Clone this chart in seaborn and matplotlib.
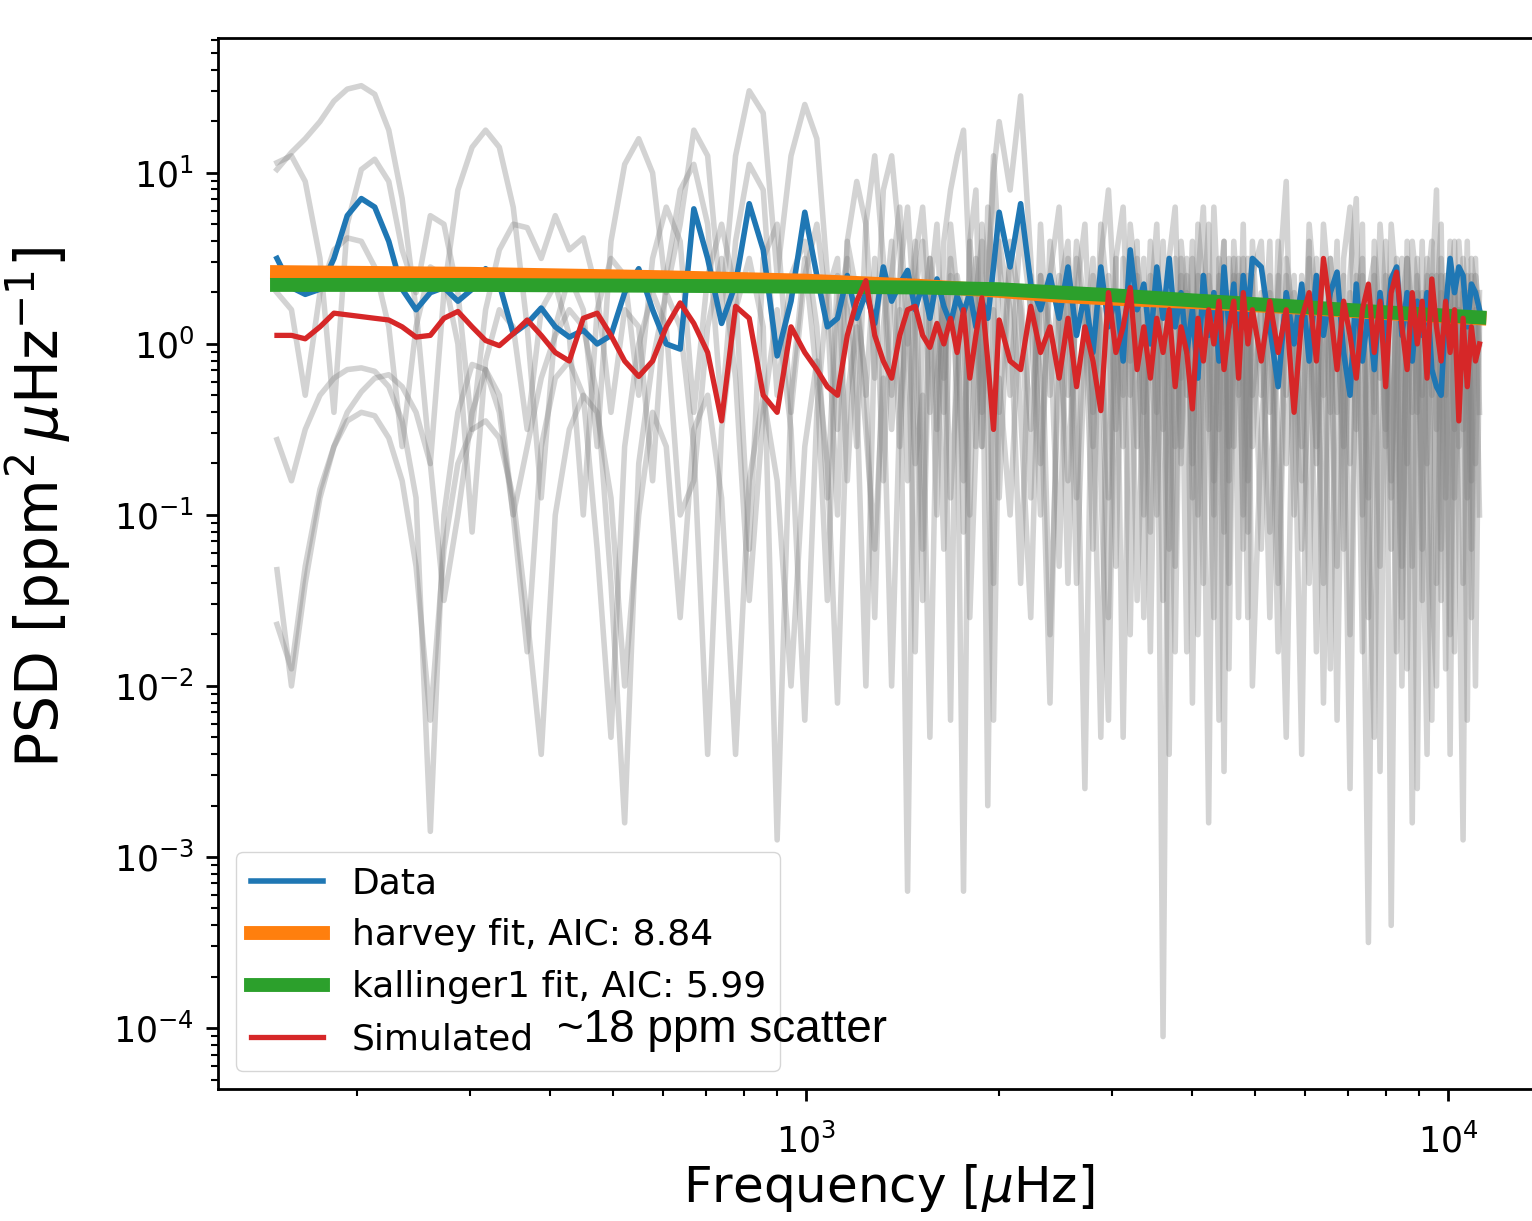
import numpy as np
import matplotlib
matplotlib.use("Agg")
import matplotlib.pyplot as plt
import seaborn as sns

# frequency grid of the periodograms [uHz]
freq_low = [150, 158, 166, 175, 184, 193, 203, 213, 224, 235, 247, 260, 273, 287, 302, 317,
            333, 350, 368, 387, 407, 428, 450, 473, 497, 522, 549, 577, 606, 637, 669, 703,
            739, 777, 816, 858, 902, 948, 996]
freq_mid = [1040, 1080, 1120, 1160, 1200, 1240, 1280, 1320, 1360, 1400, 1440, 1480, 1520,
            1560, 1600, 1640, 1680, 1720, 1760, 1800, 1840, 1880, 1920, 1960, 2000]
freq_high1 = [2080, 2160, 2240, 2320, 2400, 2480, 2560, 2640, 2720, 2800, 2880, 2960, 3040,
              3120, 3200, 3280, 3360, 3440, 3520, 3600, 3680, 3760, 3840, 3920, 4000, 4080,
              4160, 4240, 4320, 4400, 4480, 4560, 4640, 4720, 4800, 4880, 4960]
freq_high2 = [5120, 5280, 5440, 5600, 5760, 5920, 6080, 6240, 6400, 6560, 6720, 6880, 7040,
              7200, 7360, 7520, 7680, 7840, 8000, 8160, 8320, 8480, 8640, 8800, 8960, 9120,
              9280, 9440, 9600, 9760, 9920, 10080, 10240, 10400, 10560, 10720, 10880, 11040, 11200]
freq = freq_low + freq_mid + freq_high1 + freq_high2

# log10 PSD values
data_log = [0.50, 0.33, 0.29, 0.32, 0.50, 0.75, 0.85, 0.80, 0.60, 0.32, 0.20, 0.30, 0.33, 0.25, 0.32, 0.44, 0.35, 0.06, 0.12, 0.21,
            0.10, 0.04, 0.08, 0.00, 0.05, 0.30, 0.44, 0.20, 0.00, -0.03, 0.79, 0.50, 0.12, 0.35, 0.82, 0.55, -0.07, 0.25, 0.77,
            0.40, 0.10, 0.15, 0.40, 0.15, 0.30, 0.12, 0.45, 0.25, 0.35, 0.43, 0.20, 0.35, 0.15, 0.38, 0.22, 0.12, 0.28, 0.18, 0.30,
            0.10, 0.25, 0.15, 0.45, 0.77,
            0.45, 0.82, 0.35, 0.20, 0.40, 0.15, 0.45, 0.05, 0.30, -0.05, 0.45, 0.10, 0.30, -0.10, 0.55, 0.20, 0.35, 0.00, 0.45, 0.15,
            0.50, 0.10, 0.30, -0.05, 0.20, -0.20, 0.40, 0.05, 0.30, -0.10, 0.45, 0.10, 0.35, -0.05, 0.40, 0.15, 0.50,
            0.45, 0.10, -0.25, 0.30, 0.00, 0.35, -0.10, 0.40, 0.05, 0.30, 0.42, -0.05, -0.30, 0.35, -0.10, 0.20, -0.15, 0.30, 0.00, 0.38,
            0.45, 0.05, 0.30, -0.10, 0.25, 0.05, 0.30, -0.15, -0.25, -0.30, 0.20, 0.50, 0.30, 0.45, 0.40, 0.10, 0.35, 0.30, 0.20]

sim_log = [0.05, 0.05, 0.03, 0.10, 0.18, 0.17, 0.16, 0.15, 0.14, 0.10, 0.04, 0.05, 0.15, 0.19, 0.10, 0.02, -0.01, 0.06, 0.14, 0.05,
           -0.05, -0.10, 0.15, 0.18, 0.05, -0.10, -0.19, -0.10, 0.10, 0.24, 0.12, -0.05, -0.45, 0.22, 0.15, -0.30, -0.40, 0.10, -0.05,
           -0.15, -0.25, -0.30, 0.05, 0.25, 0.37, 0.05, -0.10, -0.20, 0.05, 0.20, 0.22, 0.05, -0.02, 0.12, 0.00, 0.15, -0.05, 0.20, -0.20,
           0.05, 0.27, -0.10, -0.50, 0.14,
           -0.10, -0.15, 0.22, -0.05, 0.10, -0.20, 0.15, -0.25, 0.10, -0.10, -0.39, 0.30, -0.05, 0.10, 0.33, -0.15, 0.10, -0.20, 0.15, -0.05,
           0.20, -0.25, 0.10, -0.05, -0.38, 0.15, -0.10, 0.20, 0.00, 0.25, -0.15, 0.10, 0.25, -0.20, 0.30, 0.00, 0.20,
           -0.10, 0.25, -0.05, 0.20, -0.40, 0.15, 0.30, -0.10, 0.50, 0.20, -0.15, 0.25, 0.05, -0.20, 0.20, 0.35, -0.05, 0.25, -0.25, 0.30,
           0.42, 0.10, -0.15, 0.30, 0.00, 0.25, -0.20, 0.38, 0.10, -0.10, 0.25, -0.05, 0.20, -0.45, 0.15, -0.25, 0.10, -0.10, 0.00]

grey_1 = [1.02, 1.12, 1.20, 1.30, 1.42, 1.49, 1.51, 1.46, 1.25, 0.85, 0.20, -0.70, 0.30, 0.90, 1.15, 1.25, 1.15, 0.80, 0.10, -0.90,
          0.10, 0.40, 0.20, -0.60, 0.60, 1.05, 1.20, 1.00, 0.30, 0.70, 1.25, 1.10, 0.20, 1.10, 1.48, 1.35, 0.40, 1.10, 1.40,
          1.20, 0.40, -0.50, 0.60, 0.95, 0.70, -0.20, 0.90, 1.10, 0.60, -0.80, 0.50, 0.80, 0.20, -1.00, 0.60, 0.90, 1.10, 1.25, 0.40,
          -0.60, 0.70, 0.30, 1.00, 1.30,
          0.90, 1.45, 0.50, -0.70, 0.40, 0.80, -0.30, 0.60, 0.20, -1.20, 0.50, 0.90, 0.10, -0.60, 0.70, 0.30, -0.40, 0.60, 0.10, -1.50,
          0.50, 0.80, -0.20, 0.40, -0.90, 0.70, 0.30, -0.50, 0.80, 0.10, -1.10, 0.50, 0.20, -0.30, 0.70, -0.80, 0.40,
          0.60, -0.40, 0.30, 0.95, -1.00, 0.40, 0.10, -0.60, 0.70, 0.20, -1.30, 0.50, 0.80, -0.20, 0.40, -0.90, 0.60, 0.10, -0.50, 0.70,
          0.30, -1.60, 0.50, 0.20, -0.40, 0.60, -0.70, 0.30, 0.90, -1.20, 0.40, 0.10, -0.50, 0.60, 0.20, -0.90, 0.50, 0.30, 0.00]
grey_2 = [1.06, 1.10, 0.95, 0.50, -0.40, 0.70, 1.02, 1.08, 0.95, 0.55, 0.30, 0.75, 0.70, 0.30, -0.50, 0.20, 0.55, 0.70, 0.68, 0.50,
          0.75, 0.55, 0.62, 0.30, -0.40, 0.20, 0.10, -0.80, 0.40, 0.90, 1.05, 0.70, -0.40, 0.60, 1.05, 0.90, -0.30, 0.40, 0.60,
          0.10, -0.90, 0.40, 0.20, -0.60, 0.70, 1.10, 0.50, -0.30, 0.40, 0.80, 0.10, -1.50, 0.30, 0.70, -0.20, 0.50, 0.10, -0.80, 0.60,
          0.90, -0.40, 0.30, 1.10, 0.50,
          -0.30, 0.70, 0.20, -1.00, 0.60, 0.10, -0.80, 0.30, 0.70, -0.40, 0.20, -1.60, 0.50, 0.80, -0.30, 0.40, -1.00, 0.20, 0.70, -0.50,
          0.30, -1.30, 0.60, 0.20, -0.70, 0.40, 0.80, -0.20, -1.60, 0.50, 0.20, -0.60, 0.60, 0.10, -1.00, 0.50, -0.30,
          0.20, -1.10, 0.60, -0.30, 0.40, -0.80, 0.70, 0.20, -1.40, 0.50, 0.10, -0.60, 0.40, 0.85, -1.00, 0.30, -0.40, 0.70, 0.20, -1.20,
          0.50, 0.10, -0.70, 0.60, 0.30, -1.50, 0.40, -0.30, 0.20, 0.70, -0.90, 0.30, 0.60, -0.40, 0.50, 0.10, -1.20, 0.40, 0.20]
grey_3 = [-0.56, -0.80, -0.50, -0.30, -0.20, -0.15, -0.14, -0.16, -0.25, -0.45, -0.90, -2.85, -1.00, -0.40, -0.12, -0.15, -0.40, -1.00, -0.60, -0.20,
          0.05, 0.20, 0.10, -0.30, -1.40, -2.80, -0.70, -0.10, 0.30, 0.10, -0.60, -2.40, -0.50, 0.20, 0.50, 0.10, -2.90, -0.30, 0.50,
          -0.20, -1.50, 0.20, 0.50, -0.30, -2.00, 0.10, 0.40, -0.50, 0.20, -3.20, 0.30, 0.60, -0.40, 0.10, -1.20, 0.40, -0.30, -3.20, 0.20,
          0.50, -0.60, 0.30, -1.40, 0.60,
          0.20, -1.40, 0.40, -0.20, -2.10, 0.30, 0.60, -0.90, 0.20, -0.30, -2.30, 0.40, -0.50, 0.30, -1.70, 0.50, 0.10, -1.10, 0.30, -4.05,
          0.20, -0.60, 0.40, -1.80, 0.50, -0.20, -1.40, 0.40, 0.00, -2.20, 0.30, -0.80, 0.50, -1.60, 0.10, 0.40, -2.00,
          -0.50, 0.30, -1.80, 0.40, -0.20, -2.40, 0.50, -0.70, 0.20, -1.90, 0.40, -0.30, -2.60, 0.30, -0.80, -3.50, 0.20, -1.30, 0.40, -3.40,
          -0.20, 0.50, -1.90, 0.10, -2.60, 0.30, -0.90, -2.20, 0.40, -1.50, 0.20, -2.40, 0.30, -1.10, -2.90, 0.40, -1.60, 0.20, -1.00]
grey_4 = [-1.32, -2.00, -1.40, -0.90, -0.60, -0.40, -0.28, -0.20, -0.18, -0.25, -0.40, -0.70, -1.50, -1.00, -0.40, -0.15, -0.30, -1.00, -1.80, -0.60,
          -0.20, -0.10, -0.30, -1.20, -2.30, -0.60, 0.00, 0.30, 0.10, -1.00, -0.80, 0.10, 0.50, -0.20, -1.50, -0.40, 0.20, -0.50, -2.20,
          -0.40, 0.30, 0.50, -0.80, 0.20, -0.20, -1.60, 0.10, 0.60, -0.60, 0.30, -1.80, 0.20, 0.50, -0.50, 0.30, -2.20, 0.40, 0.10, -1.00,
          0.30, 0.60, -2.70, 0.20, -0.40,
          0.50, -0.40, -1.60, 0.40, 0.10, -1.30, 0.50, -0.20, -2.60, 0.40, 0.10, -0.90, 0.50, -2.30, 0.20, -0.60, 0.50, -1.80, 0.30, 0.00,
          -1.20, 0.50, -0.70, 0.30, -2.10, 0.40, -0.40, -2.80, 0.30, -0.50, 0.60, -1.90, 0.20, 0.50, -1.20, 0.30, -0.60,
          0.30, -1.60, 0.40, -0.70, 0.20, -1.20, -0.20, 0.50, -2.10, 0.30, -0.40, 0.40, -1.70, 0.20, 0.50, -1.00, -2.30, 0.30, -0.60, 0.40,
          -1.80, 0.20, 0.50, -1.30, 0.30, -0.80, -2.40, 0.40, -0.50, 0.30, -1.90, 0.40, -0.90, 0.20, -1.40, 0.30, -0.40, -2.00, 0.10]
grey_5 = [-1.64, -1.90, -1.30, -0.85, -0.60, -0.45, -0.40, -0.42, -0.55, -0.80, -1.30, -2.20, -1.20, -0.70, -0.50, -0.45, -0.55, -0.90, -1.60, -2.40,
          -1.00, -0.50, -0.30, -0.40, -0.90, -2.00, -1.00, -0.40, -0.60, -1.60, -0.50, -0.30, -0.90, -2.40, -0.80, -0.30, -0.80, -2.00, -0.60,
          -0.10, -0.70, -2.10, -0.30, 0.10, -0.50, -1.20, -0.20, -2.00, -0.40, 0.20, -0.70, -0.30, -2.30, -0.20, 0.30, -0.90, -0.20, 0.30, -1.60,
          -0.60, 0.20, -0.50, -2.20, -0.20,
          -1.00, 0.30, -0.50, 0.40, -1.70, -0.10, 0.40, -1.40, 0.00, 0.50, -0.80, -2.20, 0.30, -0.30, 0.40, -1.50, -0.20, 0.40, -1.00, 0.30,
          -2.40, 0.20, -0.60, 0.50, -0.30, -1.70, 0.40, 0.00, -1.00, 0.40, -2.50, 0.30, -0.60, 0.40, -0.20, -1.60, 0.40,
          -1.20, 0.40, -0.50, -2.30, 0.30, 0.00, -1.40, 0.40, -0.30, 0.50, -2.20, 0.20, -0.70, 0.40, -1.80, 0.30, 0.50, -2.50, 0.20, -0.80,
          0.40, -1.30, 0.20, -2.80, 0.40, -0.30, 0.50, -1.40, -2.00, 0.40, 0.00, -1.70, 0.40, -0.60, 0.30, -2.20, 0.40, -0.70, 0.30]
grey_6 = [0.30, 0.20, -0.30, 0.30, 0.55, 0.62, 0.60, 0.45, 0.10, -0.60, 0.10, 0.45, 0.40, 0.00, -1.10, -0.10, 0.20, 0.10, -0.50, 0.20,
          0.35, 0.05, -1.00, 0.20, 0.50, 0.40, -0.30, 0.50, 0.80, 0.60, -0.40, 0.40, 0.70, 0.30, -1.20, 0.50, 0.70, -0.40, 0.40,
          0.70, 0.20, -1.00, 0.60, 0.30, -0.30, 0.50, -0.80, 0.40, 0.80, 0.00, 0.60, -1.20, 0.50, 0.20, -0.40, 0.70, 0.30, -1.10, 0.60,
          0.20, -0.60, 0.80, 0.30, -0.90,
          0.60, 0.20, -0.90, 0.70, -0.30, 0.40, -1.40, 0.50, 0.10, -0.60, 0.70, 0.20, -1.30, 0.50, -0.10, 0.60, -1.60, 0.30, -0.40, 0.60,
          -0.20, -1.80, 0.50, -0.30, 0.60, -1.00, 0.20, 0.70, -0.80, 0.30, 0.60, -1.40, 0.40, -0.20, 0.50, -1.10, 0.60,
          -0.30, 0.60, -1.40, 0.50, 0.10, -0.60, 0.60, -1.80, 0.40, -0.40, 0.60, -1.20, 0.30, -0.50, 0.70, -1.60, 0.40, -0.20, 0.60, -0.90,
          0.30, -2.00, 0.60, -0.40, 0.50, -1.20, 0.30, 0.60, -1.40, 0.50, -0.30, 0.60, -1.80, 0.40, -0.50, 0.60, -0.80, 0.50, -0.40]
grey_runs = [grey_1, grey_2, grey_3, grey_4, grey_5, grey_6]

# smooth background fits
fit_freq = [150, 300, 600, 1000, 1500, 2000, 2500, 3000, 4000, 6000, 8000, 11200]
harvey_log = [0.42, 0.41, 0.39, 0.37, 0.34, 0.31, 0.28, 0.265, 0.245, 0.21, 0.18, 0.15]
kallinger_log = [0.345, 0.345, 0.34, 0.335, 0.33, 0.32, 0.30, 0.285, 0.255, 0.215, 0.185, 0.155]

labels = ["Data", "harvey fit, AIC: 8.84", "kallinger1 fit, AIC: 5.99", "Simulated"]

for s in [data_log, sim_log] + grey_runs:
    assert len(s) == len(freq), len(s)

plt.rcParams.update({
    "font.family": "DejaVu Sans",
    "axes.linewidth": 2.0,
    "xtick.major.size": 8.6, "xtick.major.width": 2.0,
    "ytick.major.size": 8.6, "ytick.major.width": 2.0,
    "xtick.minor.size": 4.9, "xtick.minor.width": 1.5,
    "ytick.minor.size": 4.9, "ytick.minor.width": 1.5,
    "xtick.major.pad": 16, "ytick.major.pad": 8.6,
    "xtick.labelsize": 25, "ytick.labelsize": 25,
})

fig = plt.figure(figsize=(15.32, 12.21), dpi=100)
ax = fig.add_axes([218 / 1532, 132 / 1221, 1342 / 1532, 1051 / 1221])

f = np.array(freq)
for g in grey_runs:
    sns.lineplot(x=f, y=10 ** np.array(g), ax=ax, color="gray", alpha=0.34, lw=4.0,
                 estimator=None, sort=False)

sns.lineplot(x=f, y=10 ** np.array(data_log), ax=ax, color="#1f77b4", lw=4.0,
             label=labels[0], estimator=None, sort=False)
sns.lineplot(x=fit_freq, y=10 ** np.array(harvey_log), ax=ax, color="#ff7f0e", lw=10,
             label=labels[1], estimator=None, sort=False)
sns.lineplot(x=fit_freq, y=10 ** np.array(kallinger_log), ax=ax, color="#2ca02c", lw=10,
             label=labels[2], estimator=None, sort=False)
sns.lineplot(x=f, y=10 ** np.array(sim_log), ax=ax, color="#d62728", lw=3.8,
             label=labels[3], estimator=None, sort=False)

ax.set_xscale("log")
ax.set_yscale("log")
ax.set_xlim(121.4, 14950)
ax.set_ylim(4.4e-5, 61.5)
ax.set_xticks([1e3, 1e4])
ax.set_yticks([1e-4, 1e-3, 1e-2, 1e-1, 1, 10])

ax.set_xlabel(r"Frequency [$\mu$Hz]", fontsize=36)
ax.set_ylabel(r"PSD [ppm$^2\,\mu$Hz$^{-1}$]", fontsize=42)
ax.xaxis.set_label_coords(0.5, -0.069)
ax.xaxis.label.set_va("top")
ax.yaxis.set_label_coords(-0.108, 0.553)

ax.legend(loc="lower left", fontsize=26, borderaxespad=0.5)

fig.text(557 / 1532, 1 - 1030 / 1221, "~18 ppm scatter", fontsize=33,
         family="Liberation Sans", va="center", ha="left", color="black")

fig.savefig("out.png", dpi=100)
